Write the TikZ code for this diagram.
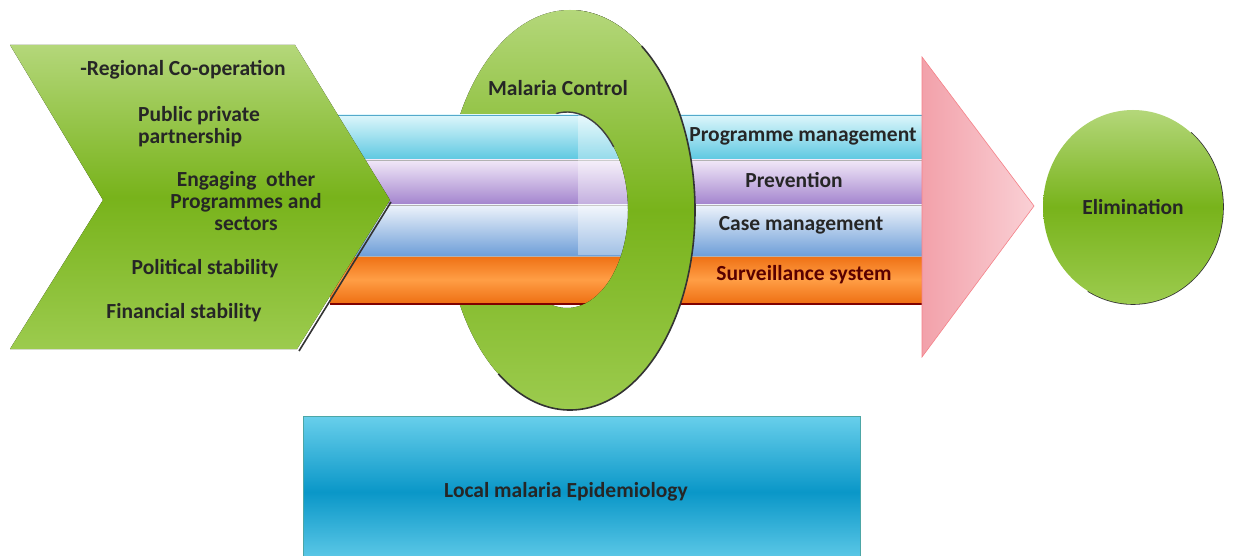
\documentclass[tikz,border=0pt]{standalone}
\usepackage{fontspec}
\setmainfont{Carlito}
\usetikzlibrary{shapes.geometric}

\definecolor{leaflight}{HTML}{B4D77A}
\definecolor{leafmid}{HTML}{78B31B}
\definecolor{leafdark}{HTML}{9CCB4E}
\definecolor{cyanlight}{HTML}{DDF6FB}
\definecolor{cyandark}{HTML}{5CC8E1}
\definecolor{lilaclight}{HTML}{F1E8F8}
\definecolor{lilacdark}{HTML}{A283CD}
\definecolor{skylight}{HTML}{EDF3FB}
\definecolor{skydark}{HTML}{6E9ED8}
\definecolor{orangelight}{HTML}{FF9E45}
\definecolor{orangedark}{HTML}{EF7014}
\definecolor{pinkdark}{HTML}{F2A1AA}
\definecolor{pinklight}{HTML}{FAD0D5}
\definecolor{tealtop}{HTML}{68CFEB}
\definecolor{tealmid}{HTML}{0A97C8}

\tikzset{
  itemtext/.style={font=\fontsize{21.5}{22}\selectfont\bfseries, text=black!85, align=center, inner sep=0pt},
  greenfill/.style={top color=leaflight, bottom color=leafdark, middle color=leafmid},
  shadowline/.style={draw=black!80, line width=1.6pt}
}

\begin{document}
\begin{tikzpicture}[x=1pt,y=-1pt]
    \clip (0,0) rectangle (1234,556);
    \fill[white] (0,0) rectangle (1234,556);

    % Malaria control ring, back half
    \fill[greenfill, even odd rule] (570,210) ellipse [x radius=125, y radius=200]
        (567,210) ellipse [x radius=61, y radius=98];

    % Strategy bands passing through the ring
    \shade[top color=cyanlight, bottom color=cyandark] (330,115) rectangle (922,160);
    \shade[top color=lilaclight, bottom color=lilacdark] (330,160) rectangle (922,205);
    \shade[top color=skylight, bottom color=skydark] (330,205) rectangle (922,256);
    \shade[top color=orangedark, bottom color=orangedark, middle color=orangelight] (330,256) rectangle (922,303);
    \draw[cyan!60!gray, line width=0.8pt] (330,115) -- (922,115);
    \draw[gray!60, line width=0.6pt] (330,160) -- (922,160) (330,205) -- (922,205) (330,256) -- (922,256);
    \draw[red!50!black, line width=2pt] (330,304) -- (922,304);

    % inside the hole
    \fill[white, opacity=0.35] (578,115) rectangle (640,255);

    % Malaria control ring, front half
    \begin{scope}
        \clip (578,0) rectangle (720,420);
        \fill[greenfill, even odd rule] (570,210) ellipse [x radius=125, y radius=200]
            (567,210) ellipse [x radius=61, y radius=98];
    \end{scope}
    \draw[black!75, line width=1.4pt] ([shift={(-100:61 and 98)}]567,210)
        arc [start angle=-100, end angle=-40, x radius=61, y radius=98];
    \draw[shadowline] ([shift={(-55:125 and 200)}]570,210)
        arc [start angle=-55, end angle=125, x radius=125, y radius=200];

    % Chevron of enabling factors
    \draw[shadowline] (391,202) -- (299,351);
    \fill[greenfill] (10,45) -- (295,45) -- (390,200) -- (297,349) -- (10,349) -- (103,200) -- cycle;

    % Arrow head
    \shade[left color=pinkdark, right color=pinklight] (922,57) -- (1034,206) -- (922,357) -- cycle;
    \draw[pinkdark!80!red, line width=0.6pt] (922,57) -- (1034,206) -- (922,357) -- cycle;

    % Goal
    \draw[shadowline] ([shift={(-50:90 and 97)}]1133,207)
        arc [start angle=-50, end angle=120, x radius=90, y radius=97];
    \node[ellipse, greenfill, minimum width=180, minimum height=194, itemtext] (elim) at (1133,207) {Elimination};

    % Epidemiology box
    \node[rectangle, draw=teal!70, line width=0.8pt, top color=tealtop, bottom color=tealtop, middle color=tealmid,
          minimum width=557, minimum height=152] (epi) at (581.5,492) {};

    % Labels
    \node[itemtext] (coop) at (183,70) {-Regional Co-operation};
    \node[itemtext, anchor=west, align=left] (ppp) at (138,127) {Public private\\partnership};
    \node[itemtext] (engage) at (246,201) {Engaging\ \ other\\Programmes and\\sectors};
    \node[itemtext] (polit) at (205,269) {Political stability};
    \node[itemtext] (finance) at (184,313) {Financial stability};
    \node[itemtext] (control) at (558,88) {Malaria Control};
    \node[itemtext] (progman) at (803,136) {Programme management};
    \node[itemtext] (prevent) at (794,180) {Prevention};
    \node[itemtext] (caseman) at (801,225) {Case management};
    \node[itemtext, text=red!35!black] (surveil) at (804,275) {Surveillance system};
    \node[itemtext] (epilabel) at (566,492) {Local malaria Epidemiology};
\end{tikzpicture}
\end{document}
